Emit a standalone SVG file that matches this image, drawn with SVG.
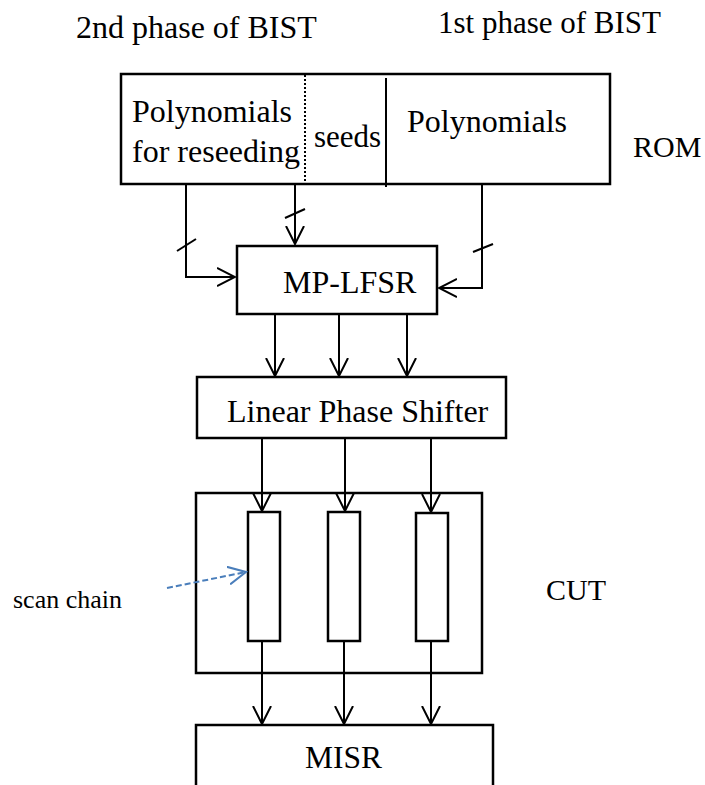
<svg xmlns="http://www.w3.org/2000/svg" width="705" height="785" viewBox="0 0 705 785">
  <style>
    .box { fill: #fff; stroke: #000; stroke-width: 2.5; }
    .wire { fill: none; stroke: #000; stroke-width: 2; }
    .tick { fill: none; stroke: #000; stroke-width: 2; }
    .lbl { font-family: "Liberation Serif", "Times New Roman", serif; fill: #000; }
  </style>
  <defs>
    <marker id="arr" viewBox="0 0 20 20" markerWidth="20" markerHeight="20" refX="18" refY="10" orient="auto" markerUnits="userSpaceOnUse">
      <path d="M0,1 L18,10 L0,19" fill="none" stroke="#000" stroke-width="2"/>
    </marker>
    <marker id="arrBlue" viewBox="0 0 20 20" markerWidth="20" markerHeight="20" refX="18" refY="10" orient="auto" markerUnits="userSpaceOnUse">
      <path d="M0,1 L18,10 L0,19" fill="none" stroke="#4a7ebb" stroke-width="2"/>
    </marker>
  </defs>

  <!-- phase captions -->
  <text class="lbl" x="76" y="38" font-size="32">2nd phase of BIST</text>
  <text class="lbl" x="438" y="33" font-size="31">1st phase of BIST</text>

  <!-- ROM -->
  <g id="rom">
    <rect class="box" x="121" y="74" width="489" height="110"/>
    <line x1="305" y1="75" x2="305" y2="184" stroke="#000" stroke-width="2" stroke-dasharray="2,2"/>
    <line x1="386" y1="78" x2="386" y2="187" stroke="#000" stroke-width="2"/>
    <text class="lbl" x="132" y="122" font-size="32">Polynomials</text>
    <text class="lbl" x="132" y="162" font-size="32">for reseeding</text>
    <text class="lbl" x="314" y="147" font-size="31">seeds</text>
    <text class="lbl" x="407" y="132" font-size="32">Polynomials</text>
    <text class="lbl" x="633" y="157" font-size="30">ROM</text>
  </g>

  <!-- MP-LFSR -->
  <g id="mplfsr">
    <rect class="box" x="237" y="246" width="200" height="68"/>
    <text class="lbl" x="283" y="293" font-size="32">MP-LFSR</text>
  </g>

  <!-- Linear Phase Shifter -->
  <g id="phase-shifter">
    <rect class="box" x="197" y="377" width="309" height="61"/>
    <text class="lbl" x="227" y="422" font-size="32">Linear Phase Shifter</text>
  </g>

  <!-- CUT with scan chains -->
  <g id="cut">
    <rect class="box" x="196" y="493" width="286" height="180"/>
    <text class="lbl" x="546" y="600" font-size="30">CUT</text>
  </g>
  <g id="scan-chain-1"><rect class="box" x="248" y="512" width="32" height="129"/></g>
  <g id="scan-chain-2"><rect class="box" x="328" y="512" width="32" height="129"/></g>
  <g id="scan-chain-3"><rect class="box" x="416" y="513" width="32" height="128"/></g>

  <!-- MISR -->
  <g id="misr">
    <rect class="box" x="196" y="725" width="297" height="80"/>
    <text class="lbl" x="305" y="768" font-size="31.5">MISR</text>
  </g>

  <!-- scan chain callout -->
  <g id="scan-chain-label">
    <text class="lbl" x="13" y="608" font-size="26">scan chain</text>
  </g>

  <g id="connectors">
    <!-- ROM to MP-LFSR -->
    <polyline class="wire" points="186,184 186,277 235,277" marker-end="url(#arr)"/>
    <line class="wire" x1="295" y1="184" x2="295" y2="244" marker-end="url(#arr)"/>
    <polyline class="wire" points="482,184 482,288 439,288" marker-end="url(#arr)"/>
    <!-- bus ticks -->
    <line class="tick" x1="177" y1="251" x2="196" y2="239"/>
    <line class="tick" x1="285" y1="218" x2="305" y2="209"/>
    <line class="tick" x1="473" y1="252" x2="493" y2="244"/>

    <!-- MP-LFSR to phase shifter -->
    <line class="wire" x1="275" y1="314" x2="275" y2="376" marker-end="url(#arr)"/>
    <line class="wire" x1="339" y1="314" x2="339" y2="376" marker-end="url(#arr)"/>
    <line class="wire" x1="407" y1="314" x2="407" y2="376" marker-end="url(#arr)"/>

    <!-- phase shifter to scan chains -->
    <line class="wire" x1="262" y1="438" x2="262" y2="511" marker-end="url(#arr)"/>
    <line class="wire" x1="345" y1="438" x2="345" y2="511" marker-end="url(#arr)"/>
    <line class="wire" x1="431" y1="438" x2="431" y2="512" marker-end="url(#arr)"/>

    <!-- scan chains to MISR -->
    <line class="wire" x1="262" y1="641" x2="262" y2="724" marker-end="url(#arr)"/>
    <line class="wire" x1="344" y1="641" x2="344" y2="724" marker-end="url(#arr)"/>
    <line class="wire" x1="431" y1="641" x2="431" y2="724" marker-end="url(#arr)"/>

    <!-- callout arrow -->
    <line x1="167" y1="588" x2="246" y2="572" fill="none" stroke="#4a7ebb" stroke-width="2" stroke-dasharray="6,3" marker-end="url(#arrBlue)"/>
  </g>
</svg>
